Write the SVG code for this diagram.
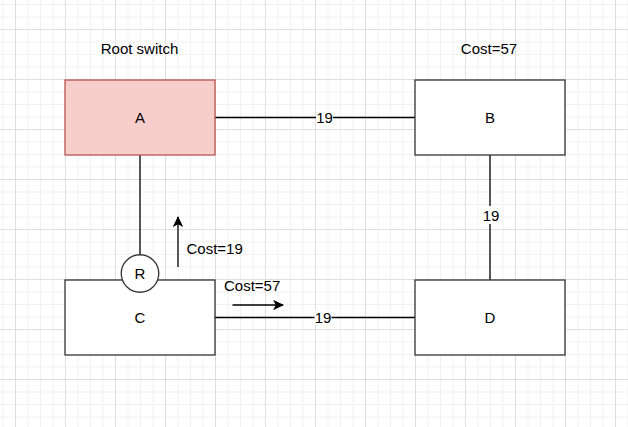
<svg xmlns="http://www.w3.org/2000/svg" width="628" height="427" viewBox="0 0 628 427">
  <style>
    .box { fill: #ffffff; stroke: #333333; stroke-width: 1.3; }
    .root { fill: #f8cecc; stroke: #b85450; stroke-width: 1.3; }
    .lbl { font-family: "Liberation Sans", Arial, sans-serif; font-size: 15px; fill: #000000; }
    .mid { text-anchor: middle; }
    .edge { stroke: #000000; stroke-width: 1.3; fill: none; }
    .lblbg { fill: #ffffff; }
  </style>
  <defs>
    <pattern id="grid" patternUnits="userSpaceOnUse" x="15" y="29" width="50" height="50">
      <path d="M13 0V50M25.5 0V50M38 0V50M0 13H50M0 25.5H50M0 38H50" stroke="#f1f1f1" stroke-width="1" fill="none"/>
      <path d="M0.5 0V50M0 0.5H50" stroke="#dedede" stroke-width="1" fill="none"/>
    </pattern>
    <marker id="arrow" viewBox="0 0 11 11" refX="10" refY="5.5" markerWidth="11" markerHeight="11" markerUnits="userSpaceOnUse" orient="auto">
      <path d="M0 0.3L11 5.5L0 10.7L2.8 5.5Z" fill="#000000"/>
    </marker>
  </defs>
  <rect x="0" y="0" width="628" height="427" fill="#ffffff"/>
  <rect x="0" y="0" width="628" height="427" fill="url(#grid)"/>

  <g id="connectors">
    <path class="edge" d="M215 117.5H415"/>
    <rect class="lblbg" x="316" y="110" width="17" height="15"/>
    <text class="lbl mid" x="324.5" y="122.5">19</text>

    <path class="edge" d="M490 155V280"/>
    <rect class="lblbg" x="481" y="206" width="18" height="18"/>
    <text class="lbl mid" x="491" y="220.5">19</text>

    <path class="edge" d="M215 317.5H415"/>
    <rect class="lblbg" x="314.5" y="310" width="17" height="15"/>
    <text class="lbl mid" x="323" y="322.5">19</text>

    <path class="edge" d="M140 155V255"/>

    <path class="edge" d="M178 267V217" marker-end="url(#arrow)"/>
    <path class="edge" d="M232.5 305H283" marker-end="url(#arrow)"/>
  </g>

  <g id="node-A">
    <rect class="root" x="65" y="80" width="150" height="75"/>
    <text class="lbl mid" x="140" y="122.5">A</text>
  </g>
  <g id="node-B">
    <rect class="box" x="415" y="80" width="150" height="75"/>
    <text class="lbl mid" x="490" y="122.5">B</text>
  </g>
  <g id="node-C">
    <rect class="box" x="65" y="280" width="150" height="75"/>
    <text class="lbl mid" x="140" y="322.5">C</text>
  </g>
  <g id="node-D">
    <rect class="box" x="415" y="280" width="150" height="75"/>
    <text class="lbl mid" x="490" y="322.5">D</text>
  </g>
  <g id="node-R">
    <circle class="box" cx="140" cy="273.5" r="18.75"/>
    <text class="lbl mid" x="140" y="279">R</text>
  </g>

  <g id="labels">
    <text class="lbl mid" x="139.5" y="54">Root switch</text>
    <text class="lbl mid" x="489" y="54">Cost=57</text>
    <text class="lbl" x="186.5" y="254">Cost=19</text>
    <text class="lbl" x="224" y="291">Cost=57</text>
  </g>
</svg>
